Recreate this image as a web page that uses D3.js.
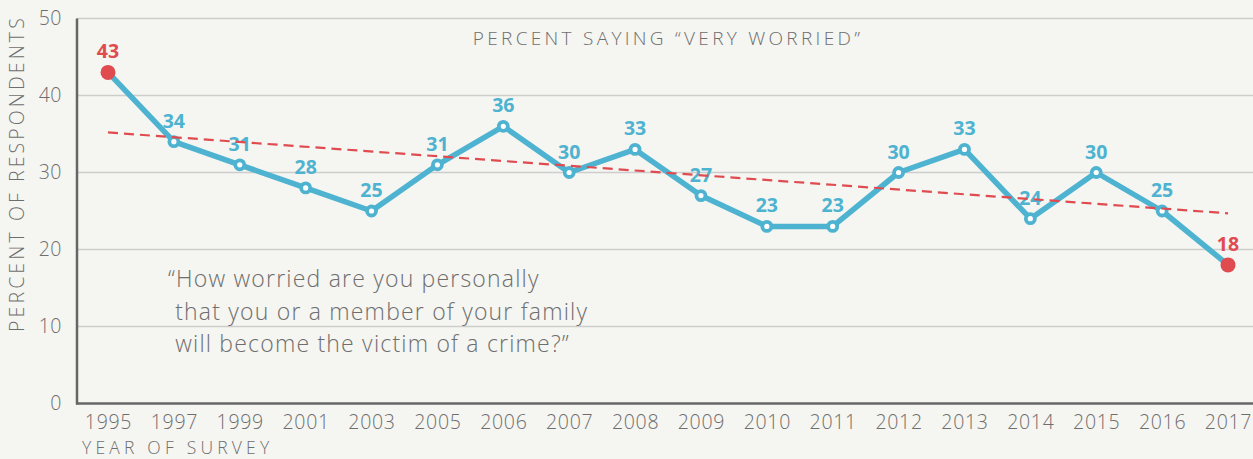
<!DOCTYPE html>
<html>
<head>
<meta charset="utf-8">
<script src="https://cdn.jsdelivr.net/npm/d3@7"></script>
<style>
  html, body { margin: 0; padding: 0; background: #f5f5f1; overflow: hidden; }
  svg { display: block; }
  text { font-family: "Open Sans", "Liberation Sans", sans-serif; }
</style>
</head>
<body>
<svg id="chart" width="1253" height="459"></svg>
<script>
// Survey years and share answering "very worried"
const years = ["1995","1997","1999","2001","2003","2005","2006","2007","2008","2009",
               "2010","2011","2012","2013","2014","2015","2016","2017"];
const veryWorried = [43, 34, 31, 28, 25, 31, 36, 30, 33, 27, 23, 23, 30, 33, 24, 30, 25, 18];
// Trend line end values (first and last survey year)
const trendYears = ["1995", "2017"];
const trendValues = [35.2, 24.7];
const yTicks = [0, 10, 20, 30, 40, 50];
const quoteLines = [
  "\u201CHow worried are you personally",
  " that you or a member of your family",
  " will become the victim of a crime?\u201D"
];

const BLUE = "#4db3d0", RED = "#e04b50", GREY = "#6e6e6e";
const LIGHT = 300;

const svg = d3.select("#chart");
const plot = { left: 77, right: 1253, top: 18.5, bottom: 403.5 };

const x = d3.scalePoint().domain(years).range([108, 1228]);
const y = d3.scaleLinear().domain([0, 50]).range([plot.bottom, plot.top]);

// gridlines
svg.append("g")
  .selectAll("line")
  .data(yTicks.filter(d => d > 0))
  .join("line")
  .attr("x1", plot.left).attr("x2", plot.right)
  .attr("y1", d => y(d)).attr("y2", d => y(d))
  .attr("stroke", "#cdcdcd").attr("stroke-width", 1.5);

// y axis
const yAxis = d3.axisLeft(y).tickValues(yTicks).tickSize(0).tickPadding(15);
const gy = svg.append("g").attr("transform", `translate(${plot.left},0)`).call(yAxis);
gy.select(".domain").attr("stroke", "#666").attr("stroke-width", 2.5)
  .attr("d", `M0,${plot.top}V${plot.bottom + 1}`);
gy.selectAll("text").attr("fill", GREY).attr("font-size", 19.5).attr("font-weight", LIGHT)
  .attr("letter-spacing", 0.5)
  .attr("font-family", "Open Sans, sans-serif");

// x axis
const xAxis = d3.axisBottom(x).tickSize(0).tickPadding(12);
const gx = svg.append("g").attr("transform", `translate(0,${plot.bottom})`).call(xAxis);
gx.select(".domain").attr("stroke", "#666").attr("stroke-width", 2.5)
  .attr("d", `M${plot.left - 1},0H${plot.right}`);
gx.selectAll("text").attr("fill", GREY).attr("font-size", 19.5).attr("font-weight", LIGHT)
  .attr("letter-spacing", 0.7)
  .attr("font-family", "Open Sans, sans-serif");

// axis titles
svg.append("text")
  .attr("transform", `translate(24,${(15 + 332) / 2}) rotate(-90)`)
  .attr("text-anchor", "middle")
  .attr("fill", GREY).attr("font-size", 19.5).attr("font-weight", LIGHT)
  .attr("letter-spacing", 3.1)
  .text("PERCENT OF RESPONDENTS");

svg.append("text")
  .attr("x", 82).attr("y", 454)
  .attr("fill", GREY).attr("font-size", 17.5).attr("font-weight", LIGHT)
  .attr("letter-spacing", 4.2)
  .text("YEAR OF SURVEY");

// chart heading
svg.append("text")
  .attr("x", 668).attr("y", 45)
  .attr("text-anchor", "middle")
  .attr("fill", GREY).attr("font-size", 19).attr("font-weight", LIGHT)
  .attr("letter-spacing", 3.3)
  .text("PERCENT SAYING \u201CVERY WORRIED\u201D");

// survey question
svg.append("g").selectAll("text")
  .data(quoteLines)
  .join("text")
  .attr("x", 168)
  .attr("y", (d, i) => 287 + i * 32.5)
  .attr("fill", GREY).attr("font-size", 23).attr("font-weight", LIGHT)
  .attr("letter-spacing", 1.2)
  .style("white-space", "pre")
  .text(d => d);

const pts = years.map((yr, i) => ({ year: yr, value: veryWorried[i], end: i === 0 || i === years.length - 1 }));

// series line
svg.append("path")
  .datum(pts)
  .attr("fill", "none")
  .attr("stroke", BLUE).attr("stroke-width", 5.5)
  .attr("stroke-linejoin", "round")
  .attr("d", d3.line().x(d => x(d.year)).y(d => y(d.value)));

// markers
svg.append("g").selectAll("circle")
  .data(pts)
  .join("circle")
  .attr("cx", d => x(d.year)).attr("cy", d => y(d.value))
  .attr("r", d => d.end ? 7.5 : 4.5)
  .attr("fill", d => d.end ? RED : "#ffffff")
  .attr("stroke", d => d.end ? "none" : BLUE)
  .attr("stroke-width", 3.8);

// value labels
svg.append("g").selectAll("text")
  .data(pts)
  .join("text")
  .attr("x", d => x(d.year)).attr("y", d => y(d.value) - 14)
  .attr("text-anchor", "middle")
  .attr("fill", d => d.end ? RED : BLUE)
  .attr("font-family", "Liberation Sans, Arial, sans-serif")
  .attr("font-size", 19.5).attr("font-weight", 700)
  .text(d => d.value);

// dashed trend line
svg.append("path")
  .datum(trendYears.map((yr, i) => ({ year: yr, value: trendValues[i] })))
  .attr("fill", "none")
  .attr("stroke", RED).attr("stroke-width", 2.2)
  .attr("stroke-dasharray", "10,6")
  .attr("d", d3.line().x(d => x(d.year)).y(d => y(d.value)));
</script>
</body>
</html>
